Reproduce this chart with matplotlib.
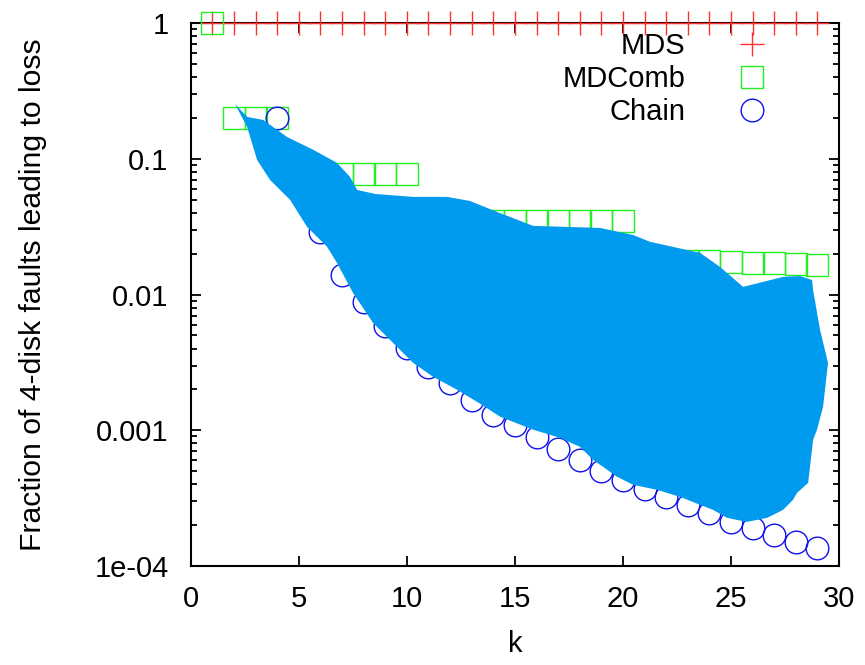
import numpy as np
import matplotlib.pyplot as plt

plt.rcParams['font.family'] = ['Liberation Sans', 'DejaVu Sans']

# MDS: every k loses data on any 4-disk fault
mds_k = list(range(1, 30))
mds_frac = [1.0] * 29

# MDComb
comb_k = list(range(1, 30))
comb_frac = [1.0, 0.2, 0.2, 0.2,
             0.077, 0.077, 0.077, 0.077, 0.077, 0.077,
             0.035, 0.035, 0.035, 0.035, 0.035, 0.035, 0.035, 0.035, 0.035, 0.035,
             0.018, 0.018, 0.0178, 0.0176, 0.0174, 0.0172, 0.017, 0.0168, 0.0166]

# Chain
chain_k = list(range(4, 30))
chain_frac = [0.2, 0.065, 0.029, 0.0139, 0.0088, 0.00586, 0.00404, 0.00292,
              0.00223, 0.00167, 0.00129, 0.00109, 0.00089, 0.00073, 0.00060,
              0.00050, 0.00043, 0.00037, 0.00032, 0.00028, 0.000246, 0.000211,
              0.00019, 0.00017, 0.000151, 0.000136]

# envelope of the cloud of other layouts (outline, clockwise from the tip)
cloud_k = [2.05, 2.61, 3.35, 4.46, 5.66, 6.77, 7.37, 7.70, 8.53, 10.29, 11.86,
           12.92, 14.17, 15.84, 18.94, 20.47, 21.25, 23.57, 24.49, 25.56, 27.41,
           28.20, 28.75, 28.80, 29.12, 29.49, 29.26, 28.98, 28.80, 28.57, 28.06,
           27.87, 27.41, 26.67, 25.74, 24.82, 24.17, 23.57, 22.64, 21.58, 20.47,
           19.73, 18.62, 18.01, 17.09, 15.84, 14.31, 13.39, 12.32, 11.21, 10.29,
           9.36, 8.44, 7.51, 6.77, 6.31, 5.38, 4.60, 3.67, 3.07, 2.61]
cloud_frac = [0.254, 0.204, 0.194, 0.145, 0.117, 0.0935, 0.0737, 0.0591, 0.0552,
              0.0525, 0.0525, 0.0490, 0.0407, 0.0321, 0.0310, 0.0275, 0.0245,
              0.0203, 0.0160, 0.0114, 0.0135, 0.0137, 0.0128, 0.0108, 0.00550,
              0.00314, 0.00149, 0.00101, 0.00085, 0.000409, 0.000346, 0.000307,
              0.000259, 0.000226, 0.000211, 0.000226, 0.000259, 0.000282,
              0.000323, 0.000364, 0.000396, 0.000454, 0.000605, 0.000755,
              0.000879, 0.00101, 0.00126, 0.00157, 0.00199, 0.00248, 0.00314,
              0.00441, 0.00618, 0.0103, 0.0171, 0.0225, 0.0316, 0.0499, 0.0700,
              0.0984, 0.172]

yticks = [1e-4, 1e-3, 1e-2, 1e-1, 1]
ytick_labels = ['1e-04', '0.001', '0.01', '0.1', '1']
xticks = [0, 5, 10, 15, 20, 25, 30]

fig = plt.figure(figsize=(8.65, 6.65), dpi=100)
ax = fig.add_axes([0.2205, 0.149, 0.7495, 0.816])

ax.plot(mds_k, mds_frac, ls='none', marker='+', ms=17.5, mew=1.0,
        color='#ff3030', label='MDS', clip_on=False, zorder=3)
ax.plot(comb_k, comb_frac, ls='none', marker='s', ms=15.5, mew=1.0,
        mfc='none', mec='#22ee22', label='MDComb', clip_on=False, zorder=3)
ax.plot(chain_k, chain_frac, ls='none', marker='o', ms=16.3, mew=1.0,
        mfc='none', mec='#1010ee', label='Chain', zorder=3)
ax.fill(cloud_k, cloud_frac, color='#009aee', lw=0, zorder=4)

ax.set_yscale('log')
ax.set_xlim(0, 30)
ax.set_ylim(1e-4, 1)
ax.set_xticks(xticks)
ax.set_yticks(yticks)
ax.set_yticklabels(ytick_labels)
ax.tick_params(which='both', direction='in', top=True, right=True,
               labelsize=21, width=1.3)
ax.tick_params(axis='y', which='major', length=7, pad=16)
ax.tick_params(axis='y', which='minor', length=4)
ax.tick_params(axis='x', which='major', length=7, pad=14)
ax.tick_params(axis='x', which='minor', bottom=False, top=False)
for s in ax.spines.values():
    s.set_linewidth(1.5)

ax.set_xlabel('k', fontsize=21, labelpad=12)
ax.set_ylabel('Fraction of 4-disk faults leading to loss', fontsize=21.7, labelpad=34)

ax.legend(loc='upper right', bbox_to_anchor=(0.92, 0.995), frameon=False,
          markerfirst=False, fontsize=21, handlelength=2.0, handletextpad=1.3,
          labelspacing=0.17, borderpad=0.2, borderaxespad=0.0)

fig.savefig('out.png', dpi=100)
